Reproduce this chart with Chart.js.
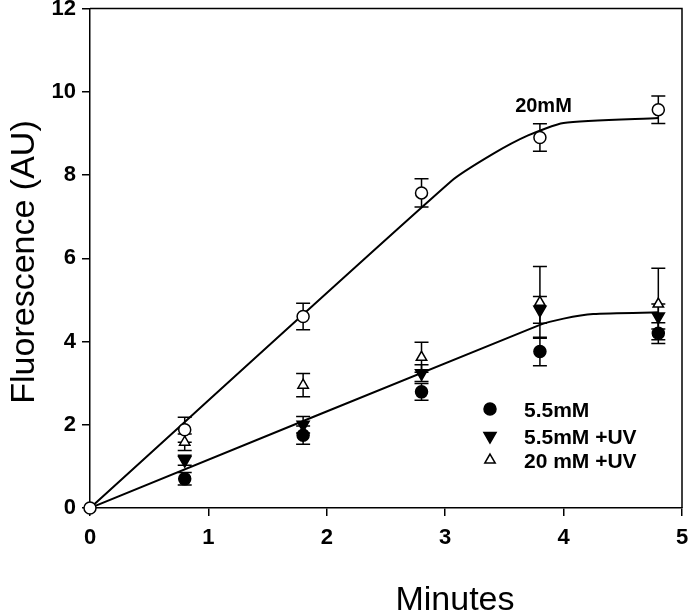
<!DOCTYPE html>
<html>
<head>
<meta charset="utf-8">
<script src="https://cdn.jsdelivr.net/npm/chart.js@4.4.1/dist/chart.umd.min.js"></script>
<style>
  html, body { margin: 0; padding: 0; background: #fff; }
  #wrap { width: 693px; height: 616px; }
</style>
</head>
<body>
<div id="wrap"><canvas id="fluoChart" width="693" height="616"></canvas></div>
<script>
// measured time points (minutes)
const minutes = [0.8, 1.8, 2.8, 3.8, 4.8];

// 20 mM (open circles), includes the origin point
const minutes20 = [0, 0.8, 1.8, 2.8, 3.8, 4.8];
const mM20 = [0, 1.88, 4.6, 7.57, 8.9, 9.57];
const mM20Err = [0, 0.3, 0.32, 0.34, 0.33, 0.33];

// 5.5 mM (filled circles)
const mM55 = [0.7, 1.75, 2.79, 3.76, 4.2];
const mM55Err = [0.15, 0.22, 0.2, 0.34, 0.25];

// 5.5 mM +UV (filled down triangles)
const mM55uv = [1.15, 2.0, 3.24, 4.76, 4.6];
const mM55uvErr = [0.12, 0.2, 0.2, 0.32, 0.3];

// 20 mM +UV (open up triangles)
const mM20uv = [1.58, 2.95, 3.62, 4.94, 4.9];
const mM20uvErr = [0.2, 0.28, 0.36, 0.86, 0.86];

// fitted curves
const fit20X = [0, 3.05, 3.4, 3.7, 4.0, 4.8];
const fit20Y = [0, 7.85, 8.5, 8.95, 9.25, 9.37];
const fit55X = [0, 3.8, 4.0, 4.25, 4.8];
const fit55Y = [0, 4.4, 4.55, 4.66, 4.7];

const xTicks = [0, 1, 2, 3, 4, 5];
const yTicks = [0, 2, 4, 6, 8, 10, 12];

const FONT = "'Liberation Sans', Arial, sans-serif";

function toPoints(xs, ys) {
    return xs.map((x, i) => ({ x: x, y: ys[i] }));
}

// vertical error bars with caps, drawn below the markers
const errorBars = {
    id: 'errorBars',
    beforeDatasetsDraw(chart) {
        const { ctx, scales: { x, y } } = chart;
        ctx.save();
        ctx.strokeStyle = '#000';
        ctx.lineWidth = 1.5;
        chart.data.datasets.forEach(ds => {
            if (!ds.errors) return;
            ds.data.forEach((p, i) => {
                const e = ds.errors[i];
                if (!e) return;
                const px = x.getPixelForValue(p.x);
                const top = y.getPixelForValue(p.y + e);
                const bot = y.getPixelForValue(p.y - e);
                ctx.beginPath();
                ctx.moveTo(px, top); ctx.lineTo(px, bot);
                ctx.moveTo(px - 7, top); ctx.lineTo(px + 7, top);
                ctx.moveTo(px - 7, bot); ctx.lineTo(px + 7, bot);
                ctx.stroke();
            });
        });
        ctx.restore();
    }
};

// box, titles, in-plot label and legend
const decorations = {
    id: 'decorations',
    afterDraw(chart) {
        const { ctx, chartArea: a, scales: { x, y } } = chart;
        ctx.save();
        ctx.strokeStyle = '#000';
        ctx.lineWidth = 1.5;
        ctx.beginPath();
        ctx.moveTo(a.left, a.top); ctx.lineTo(a.right, a.top); ctx.lineTo(a.right, a.bottom);
        ctx.stroke();

        ctx.fillStyle = '#000';
        ctx.font = '34px ' + FONT;
        ctx.textAlign = 'center';
        ctx.textBaseline = 'middle';
        ctx.fillText('Minutes', 455, 601);

        ctx.save();
        ctx.translate(25, 262);
        ctx.rotate(-Math.PI / 2);
        ctx.fillText('Fluorescence (AU)', 0, 0);
        ctx.restore();

        ctx.font = 'bold 20px ' + FONT;
        ctx.fillText('20mM', x.getPixelForValue(3.83), y.getPixelForValue(9.65));

        const legend = [
            { label: '5.5mM', style: 'circle', fill: '#000', rot: 0, r: 6 },
            { label: '5.5mM +UV', style: 'triangle', fill: '#000', rot: 180, r: 7 },
            { label: '20 mM +UV', style: 'triangle', fill: '#fff', rot: 0, r: 6 }
        ];
        const rows = [409, 436, 460];
        legend.forEach((item, i) => {
            ctx.fillStyle = item.fill;
            ctx.strokeStyle = '#000';
            ctx.lineWidth = 1.5;
            Chart.helpers.drawPoint(ctx, { pointStyle: item.style, radius: item.r, rotation: item.rot, borderWidth: 1.5 }, 490, rows[i]);
            ctx.fillStyle = '#000';
            ctx.textAlign = 'left';
            ctx.font = 'bold 21px ' + FONT;
            ctx.fillText(item.label, 524, rows[i] + 2);
        });
        ctx.restore();
    }
};

const ctx = document.getElementById('fluoChart').getContext('2d');
new Chart(ctx, {
    type: 'scatter',
    data: {
        datasets: [
            {
                label: '5.5mM',
                data: toPoints(minutes, mM55),
                errors: mM55Err,
                pointStyle: 'circle',
                pointRadius: 6,
                backgroundColor: '#000',
                borderColor: '#000',
                borderWidth: 1.5
            },
            {
                label: '5.5mM +UV',
                data: toPoints(minutes, mM55uv),
                errors: mM55uvErr,
                pointStyle: 'triangle',
                rotation: 180,
                pointRadius: 7,
                backgroundColor: '#000',
                borderColor: '#000',
                borderWidth: 1.5
            },
            {
                label: '20 mM +UV',
                data: toPoints(minutes, mM20uv),
                errors: mM20uvErr,
                pointStyle: 'triangle',
                pointRadius: 6,
                backgroundColor: '#fff',
                borderColor: '#000',
                borderWidth: 1.5
            },
            {
                label: '20mM',
                data: toPoints(minutes20, mM20),
                errors: mM20Err,
                pointStyle: 'circle',
                pointRadius: 6,
                backgroundColor: '#fff',
                borderColor: '#000',
                borderWidth: 1.5,
                clip: false
            },
            {
                label: 'fit 20mM',
                type: 'line',
                data: toPoints(fit20X, fit20Y),
                showLine: true,
                pointRadius: 0,
                borderColor: '#000',
                borderWidth: 2,
                tension: 0.2,
                fill: false
            },
            {
                label: 'fit 5.5mM',
                type: 'line',
                data: toPoints(fit55X, fit55Y),
                showLine: true,
                pointRadius: 0,
                borderColor: '#000',
                borderWidth: 2,
                tension: 0.2,
                fill: false
            }
        ]
    },
    options: {
        responsive: false,
        animation: false,
        layout: { padding: { top: 7, right: 11, left: 0, bottom: 0 } },
        plugins: {
            legend: { display: false },
            tooltip: { enabled: false }
        },
        scales: {
            x: {
                type: 'linear',
                min: 0,
                max: 5,
                afterBuildTicks: s => { s.ticks = xTicks.map(v => ({ value: v })); },
                afterFit: s => { s.height = 108; s.paddingLeft = 0; s.paddingRight = 0; },
                grid: { display: true, drawOnChartArea: false, tickLength: 8, color: '#000', lineWidth: 1.5 },
                border: { display: true, color: '#000', width: 1.5 },
                ticks: { color: '#000', font: { family: FONT, size: 22, weight: 'bold' }, padding: 9, maxRotation: 0 }
            },
            y: {
                type: 'linear',
                min: 0,
                max: 12,
                afterBuildTicks: s => { s.ticks = yTicks.map(v => ({ value: v })); },
                afterFit: s => { s.width = 90; s.paddingTop = 0; s.paddingBottom = 0; },
                grid: { display: true, drawOnChartArea: false, tickLength: 8, color: '#000', lineWidth: 1.5 },
                border: { display: true, color: '#000', width: 1.5 },
                ticks: { color: '#000', font: { family: FONT, size: 22, weight: 'bold' }, padding: 6 }
            }
        }
    },
    plugins: [errorBars, decorations]
});
</script>
</body>
</html>
